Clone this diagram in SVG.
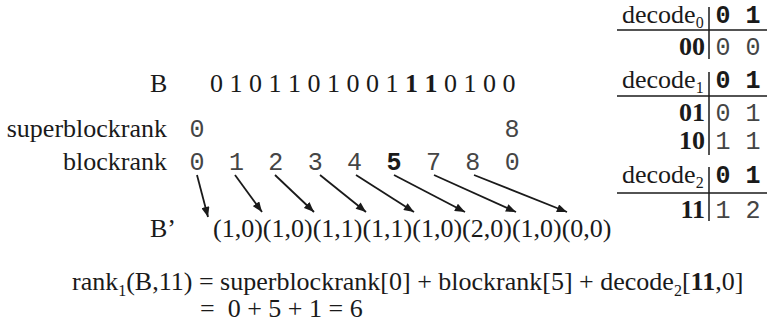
<svg xmlns="http://www.w3.org/2000/svg" width="767" height="328" viewBox="0 0 767 328">
  <style>
    text { fill: #1a1a1a; }
    .serif { font-family: "Liberation Serif", "Times New Roman", serif; font-size: 26px; }
    .mono { font-family: "Liberation Mono", "Courier New", monospace; font-size: 25px; fill: #454545; }
    .monob { font-family: "Liberation Mono", "Courier New", monospace; font-size: 25px; font-weight: bold; }
    .bold { font-weight: bold; }
    .sub { font-size: 16px; }
    .rule { stroke: #1a1a1a; stroke-width: 1.5; fill: none; }
    .arrow { stroke: #1a1a1a; stroke-width: 1.8; fill: none; marker-end: url(#head); }
  </style>
  <defs>
    <marker id="head" viewBox="0 0 10 8" refX="10" refY="4" markerWidth="6" markerHeight="4.5" orient="auto" markerUnits="strokeWidth">
      <path d="M0,0 L10,4 L0,8 Z" fill="#1a1a1a"/>
    </marker>
  </defs>

  <!-- bit vector -->
  <g id="bitvector">
    <text class="serif" x="150" y="92">B</text>
    <text class="serif" x="210" y="92" xml:space="preserve">0 1 0 1 1 0 1 0 0 1 <tspan class="bold">1 1</tspan> 0 1 0 0</text>
  </g>

  <!-- superblock ranks -->
  <g id="superblockrank">
    <text class="serif" x="167" y="137" text-anchor="end">superblockrank</text>
    <text class="mono" x="197" y="137" text-anchor="middle">0</text>
    <text class="mono" x="512" y="137" text-anchor="middle">8</text>
  </g>

  <!-- block ranks -->
  <g id="blockrank">
    <text class="serif" x="167" y="170" text-anchor="end">blockrank</text>
    <text class="mono" x="197" y="170" text-anchor="middle">0</text>
    <text class="mono" x="236.4" y="170" text-anchor="middle">1</text>
    <text class="mono" x="275.8" y="170" text-anchor="middle">2</text>
    <text class="mono" x="315.2" y="170" text-anchor="middle">3</text>
    <text class="mono" x="354.6" y="170" text-anchor="middle">4</text>
    <text class="monob" x="394" y="170" text-anchor="middle">5</text>
    <text class="mono" x="433.4" y="170" text-anchor="middle">7</text>
    <text class="mono" x="472.8" y="170" text-anchor="middle">8</text>
    <text class="mono" x="512.2" y="170" text-anchor="middle">0</text>
  </g>

  <!-- compressed sequence B' -->
  <g id="bprime">
    <text class="serif" x="150" y="237">B’</text>
    <text class="serif" x="213" y="237">(1,0)(1,0)(1,1)(1,1)(1,0)(2,0)(1,0)(0,0)</text>
  </g>

  <!-- decode tables -->
  <g id="decode0">
    <text class="serif" x="622" y="23">decode<tspan class="sub" dy="5">0</tspan></text>
    <text class="monob" x="723" y="23" text-anchor="middle">0</text>
    <text class="monob" x="753" y="23" text-anchor="middle">1</text>
    <line class="rule" x1="617" y1="30" x2="767" y2="30"/>
    <line class="rule" x1="709" y1="7" x2="709" y2="59"/>
    <text class="serif bold" x="705" y="55" text-anchor="end">00</text>
    <text class="mono" x="723" y="55" text-anchor="middle">0</text>
    <text class="mono" x="753" y="55" text-anchor="middle">0</text>
  </g>
  <g id="decode1">
    <text class="serif" x="622" y="88">decode<tspan class="sub" dy="5">1</tspan></text>
    <text class="monob" x="723" y="88" text-anchor="middle">0</text>
    <text class="monob" x="753" y="88" text-anchor="middle">1</text>
    <line class="rule" x1="617" y1="96" x2="767" y2="96"/>
    <line class="rule" x1="709" y1="72" x2="709" y2="155"/>
    <text class="serif bold" x="705" y="121" text-anchor="end">01</text>
    <text class="mono" x="723" y="121" text-anchor="middle">0</text>
    <text class="mono" x="753" y="121" text-anchor="middle">1</text>
    <text class="serif bold" x="705" y="149" text-anchor="end">10</text>
    <text class="mono" x="723" y="149" text-anchor="middle">1</text>
    <text class="mono" x="753" y="149" text-anchor="middle">1</text>
  </g>
  <g id="decode2">
    <text class="serif" x="622" y="183">decode<tspan class="sub" dy="5">2</tspan></text>
    <text class="monob" x="723" y="183" text-anchor="middle">0</text>
    <text class="monob" x="753" y="183" text-anchor="middle">1</text>
    <line class="rule" x1="617" y1="193" x2="767" y2="193"/>
    <line class="rule" x1="709" y1="167" x2="709" y2="221"/>
    <text class="serif bold" x="705" y="218" text-anchor="end">11</text>
    <text class="mono" x="723" y="218" text-anchor="middle">1</text>
    <text class="mono" x="753" y="218" text-anchor="middle">2</text>
  </g>

  <!-- rank computation -->
  <g id="formula">
    <text class="serif" x="72" y="290">rank<tspan class="sub" dy="6">1</tspan><tspan dy="-6">(B,11) = superblockrank[0] + blockrank[5] + decode</tspan><tspan class="sub" dy="6">2</tspan><tspan dy="-6">[</tspan><tspan class="bold">11</tspan>,0]</text>
    <text class="serif" x="200" y="317" xml:space="preserve">=  0 + 5 + 1 = 6</text>
  </g>

  <!-- pointers from block ranks into B' -->
  <g id="connectors">
    <line class="arrow" x1="197" y1="175" x2="208" y2="217"/>
    <line class="arrow" x1="235" y1="175" x2="262" y2="212"/>
    <line class="arrow" x1="275" y1="175" x2="314" y2="212"/>
    <line class="arrow" x1="320" y1="175" x2="366" y2="212"/>
    <line class="arrow" x1="356" y1="175" x2="414" y2="212"/>
    <line class="arrow" x1="394" y1="175" x2="465" y2="212"/>
    <line class="arrow" x1="434" y1="175" x2="516" y2="212"/>
    <line class="arrow" x1="474" y1="175" x2="567" y2="212"/>
  </g>
</svg>
